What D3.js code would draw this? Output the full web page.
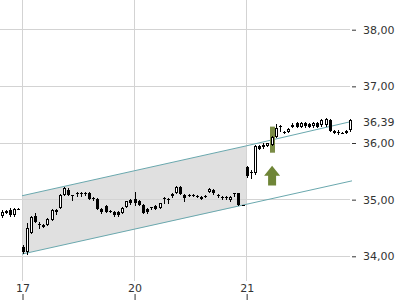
<!DOCTYPE html>
<html>
<head>
<meta charset="utf-8">
<script src="https://cdn.jsdelivr.net/npm/d3@7"></script>
<style>
  body { margin: 0; background: #fff; }
  svg { display: block; font-family: "DejaVu Sans", sans-serif; }
</style>
</head>
<body>
<svg id="app" width="400" height="300"></svg>
<script>
// Handelstage auf der x-Achse und ihr erster Slot
const days = ["17", "20", "21"];
const dayStart = [0, 27, 54];

// Kerzen [open, high, low, close]
const candlesPrev = [   // Vortag, Slots -5 .. -1
  [34.71, 34.80, 34.69, 34.78], [34.76, 34.81, 34.75, 34.79], [34.81, 34.84, 34.70, 34.72],
  [34.72, 34.84, 34.71, 34.83], [34.83, 34.84, 34.83, 34.83]
];
const candles17 = [
  [34.15, 34.19, 34.05, 34.07], [34.07, 34.58, 34.03, 34.49], [34.41, 34.71, 34.40, 34.69],
  [34.70, 34.76, 34.59, 34.60], [34.57, 34.60, 34.49, 34.56], [34.51, 34.56, 34.50, 34.55],
  [34.55, 34.66, 34.54, 34.65], [34.64, 34.82, 34.63, 34.81], [34.81, 34.83, 34.74, 34.78],
  [34.85, 35.09, 34.84, 35.08], [35.08, 35.22, 35.07, 35.20], [35.17, 35.19, 35.07, 35.08],
  [35.08, 35.08, 34.99, 35.07], [35.11, 35.12, 35.06, 35.11], [35.11, 35.12, 35.06, 35.11],
  [35.11, 35.12, 35.07, 35.10], [35.11, 35.12, 35.00, 35.01], [35.02, 35.03, 34.99, 35.02],
  [35.01, 35.02, 34.82, 34.83], [34.83, 34.84, 34.76, 34.78], [34.88, 34.89, 34.77, 34.78],
  [34.78, 34.80, 34.77, 34.79], [34.78, 34.79, 34.71, 34.72], [34.78, 34.79, 34.71, 34.72],
  [34.76, 34.86, 34.75, 34.85], [34.87, 34.97, 34.86, 34.96], [34.99, 35.00, 34.92, 34.93]
];
const candles20 = [
  [35.01, 35.13, 34.90, 34.94], [34.97, 34.98, 34.89, 34.90], [34.90, 34.91, 34.75, 34.76],
  [34.83, 34.84, 34.75, 34.78], [34.86, 34.87, 34.83, 34.86], [34.88, 34.89, 34.82, 34.83],
  [34.85, 34.94, 34.84, 34.93], [35.02, 35.03, 34.94, 35.02], [35.01, 35.02, 34.94, 35.00],
  [35.05, 35.10, 35.04, 35.09], [35.11, 35.24, 35.10, 35.22], [35.22, 35.23, 35.09, 35.09],
  [35.08, 35.09, 34.97, 35.02], [35.08, 35.09, 35.05, 35.07], [35.08, 35.09, 35.05, 35.07],
  [35.06, 35.07, 35.03, 35.05], [35.04, 35.05, 35.00, 35.01], [35.06, 35.08, 35.04, 35.06],
  [35.13, 35.19, 35.12, 35.18], [35.17, 35.18, 35.09, 35.10], [35.08, 35.09, 35.04, 35.05],
  [35.02, 35.05, 35.01, 35.04], [35.04, 35.05, 35.01, 35.02], [34.98, 35.05, 34.97, 35.04],
  [35.10, 35.11, 35.06, 35.10], [35.10, 35.11, 34.89, 34.90], [34.90, 34.90, 34.89, 34.89]
];
const candles21 = [
  [35.57, 35.59, 35.39, 35.41], [35.48, 35.52, 35.38, 35.47], [35.46, 35.95, 35.45, 35.94],
  [35.94, 35.95, 35.88, 35.89], [35.96, 35.99, 35.91, 35.92], [35.94, 36.00, 35.93, 35.99],
  [35.96, 36.11, 35.95, 36.10], [36.10, 36.33, 36.09, 36.26], [36.30, 36.31, 36.20, 36.30],
  [36.19, 36.20, 36.16, 36.18], [36.19, 36.25, 36.18, 36.24], [36.28, 36.35, 36.27, 36.31],
  [36.35, 36.36, 36.27, 36.28], [36.28, 36.36, 36.27, 36.35], [36.35, 36.36, 36.28, 36.29],
  [36.33, 36.34, 36.27, 36.28], [36.29, 36.36, 36.28, 36.35], [36.35, 36.36, 36.27, 36.28],
  [36.31, 36.41, 36.30, 36.40], [36.31, 36.43, 36.30, 36.42], [36.40, 36.41, 36.20, 36.21],
  [36.21, 36.22, 36.16, 36.17], [36.19, 36.22, 36.15, 36.18], [36.17, 36.18, 36.16, 36.17],
  [36.17, 36.22, 36.16, 36.21], [36.22, 36.42, 36.21, 36.39]
];

// y-Achse
const yTicks = [34, 35, 36, 37, 38];
const lastPrice = 36.39;

// Trendkanal (Slot -> Kurs)
const channelSlots = [0, 54, 79.3];
const channelTop = [35.06, 35.94, 36.37];
const channelBottom = [34.03, 34.90, 35.32];

// Kaufsignal
const signalSlot = 60;
const signalBar = [35.82, 36.28];
const signalArrow = [35.24, 35.59];

const PLOT_RIGHT = 352;
const svg = d3.select("#app");

// Kerzen mit Slot-Index zusammenfuehren
const candles = [];
candlesPrev.forEach((c, i) => candles.push({ slot: i - 5, o: c[0], h: c[1], l: c[2], c: c[3] }));
[candles17, candles20, candles21].forEach((list, d) => {
  list.forEach((c, i) => candles.push({ slot: dayStart[d] + i, o: c[0], h: c[1], l: c[2], c: c[3] }));
});

// Skalen
const xScale = d3.scaleLinear().domain([-5.3, 79.5]).range([0, PLOT_RIGHT]);
const yScale = d3.scaleLinear().domain([34, 38]).range([255.8, 29.2]);

const de = d3.formatLocale({ decimal: ",", thousands: ".", grouping: [3], currency: ["", " €"] });
const fmt = de.format(".2f");

// Kanal-Flaeche (nur bis Beginn Tag 21)
const fillPts = [];
for (let i = 0; i < 2; i++) fillPts.push([xScale(channelSlots[i]), yScale(channelTop[i])]);
for (let i = 1; i >= 0; i--) fillPts.push([xScale(channelSlots[i]), yScale(channelBottom[i])]);
svg.append("polygon")
  .attr("points", fillPts.map(p => p.join(",")).join(" "))
  .attr("fill", "#e0e0e0");

// Gitterlinien
svg.append("g").selectAll("line")
  .data(yTicks)
  .enter()
  .append("line")
  .attr("x1", 0)
  .attr("x2", PLOT_RIGHT - 2)
  .attr("y1", d => Math.round(yScale(d)) + 0.5)
  .attr("y2", d => Math.round(yScale(d)) + 0.5)
  .attr("stroke", "#d3d3d3");

svg.append("g").selectAll("line")
  .data(dayStart)
  .enter()
  .append("line")
  .attr("x1", d => Math.round(xScale(d)) + 0.5)
  .attr("x2", d => Math.round(xScale(d)) + 0.5)
  .attr("y1", 0)
  .attr("y2", 281)
  .attr("stroke", "#d3d3d3");

// Kanal-Linien
const line = d3.line();
svg.append("path")
  .attr("d", line(channelSlots.map((s, i) => [xScale(s), yScale(channelTop[i])])))
  .attr("fill", "none")
  .attr("stroke", "#6aa8ae");
svg.append("path")
  .attr("d", line([[xScale(0), yScale(channelBottom[0])], [PLOT_RIGHT, yScale(channelBottom[2] + 0.003)]]))
  .attr("fill", "none")
  .attr("stroke", "#6aa8ae");

// Signal-Balken hinter der Kerze
const sigX = Math.floor(xScale(signalSlot + 0.25));
svg.append("rect")
  .attr("x", sigX - 2)
  .attr("y", yScale(signalBar[1]))
  .attr("width", 5)
  .attr("height", yScale(signalBar[0]) - yScale(signalBar[1]))
  .attr("fill", "#7a8c45");

// Kerzen
const cg = svg.append("g");
candles.forEach(d => {
  const px = Math.floor(xScale(d.slot + 0.25));
  const yTop = Math.round(yScale(Math.max(d.o, d.c)));
  const yBot = Math.round(yScale(Math.min(d.o, d.c)));
  const hBody = yBot - yTop;
  // Docht
  cg.append("line")
    .attr("x1", px + 0.5).attr("x2", px + 0.5)
    .attr("y1", Math.round(yScale(d.h))).attr("y2", Math.round(yScale(d.l)) + 1)
    .attr("stroke", "#000");
  if (d.c > d.o && hBody >= 2) {
    // steigend: hohl
    cg.append("rect")
      .attr("x", px - 0.5).attr("y", yTop + 0.5)
      .attr("width", 2).attr("height", hBody - 1)
      .attr("fill", "#fff").attr("stroke", "#000");
  } else {
    cg.append("rect")
      .attr("x", px - 1).attr("y", yTop)
      .attr("width", 3).attr("height", Math.max(1, hBody))
      .attr("fill", "#000");
  }
});

// Pfeil
const ax = xScale(signalSlot + 0.25);
const aTop = yScale(signalArrow[1]);
const aBot = yScale(signalArrow[0]);
svg.append("polygon")
  .attr("points", [
    [ax, aTop], [ax + 8, aTop + 10], [ax + 4, aTop + 10], [ax + 4, aBot],
    [ax - 4, aBot], [ax - 4, aTop + 10], [ax - 8, aTop + 10]
  ].map(p => p.join(",")).join(" "))
  .attr("fill", "#6f8537");

// y-Achse rechts
const axisY = d3.axisRight(yScale).tickValues(yTicks).tickSize(4).tickPadding(7).tickFormat(fmt);
const gy = svg.append("g")
  .attr("transform", `translate(${PLOT_RIGHT},0.5)`)
  .call(axisY);
gy.select(".domain").remove();
gy.selectAll("line").attr("stroke", "#333");
gy.selectAll("text").attr("fill", "#333").attr("font-size", 11).attr("font-family", "DejaVu Sans");

// letzter Kurs
svg.append("text")
  .attr("x", PLOT_RIGHT + 11)
  .attr("y", yScale(lastPrice) + 2)
  .attr("dy", "0.35em")
  .attr("fill", "#333")
  .attr("font-size", 11)
  .text(fmt(lastPrice));

// x-Achse unten
const axisX = d3.axisTop(xScale).tickValues(dayStart).tickSize(6).tickPadding(2)
  .tickFormat((d, i) => days[i]);
const gx = svg.append("g")
  .attr("transform", "translate(0.5,300)")
  .call(axisX);
gx.select(".domain").remove();
gx.selectAll("line").attr("stroke", "#333");
gx.selectAll("text").attr("fill", "#333").attr("font-size", 11).attr("font-family", "DejaVu Sans");
</script>
</body>
</html>
